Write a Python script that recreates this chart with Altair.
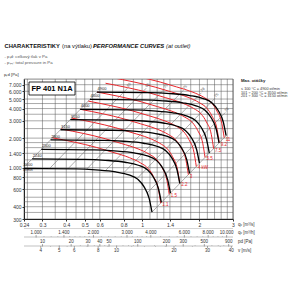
import altair as alt
import pandas as pd

FONT = "Liberation Sans"
W, H = 209, 140
L, T = 24, 79

# ---- fan curves (black), q [m3/s], p [Pa] ----
speeds = ["4900", "4500", "4000", "3550", "3150", "2800", "2500", "2240", "2000"]
q_4900 = [0.58, 1.10, 1.40, 1.78, 2.09, 2.33, 2.50, 2.67, 2.76]
p_4900 = [5890, 5820, 5690, 5430, 5060, 4560, 3870, 2900, 2115]
q_4500 = [0.533, 1.010, 1.286, 1.635, 1.919, 2.140, 2.296, 2.452, 2.535]
p_4500 = [4968, 4909, 4799, 4580, 4268, 3846, 3264, 2446, 1784]
q_4000 = [0.473, 0.898, 1.143, 1.453, 1.706, 1.902, 2.041, 2.180, 2.253]
p_4000 = [3925, 3878, 3792, 3619, 3372, 3039, 2579, 1933, 1409]
q_3550 = [0.420, 0.797, 1.014, 1.290, 1.514, 1.688, 1.811, 1.934, 2.000]
p_3550 = [3092, 3055, 2987, 2850, 2656, 2394, 2031, 1522, 1110]
q_3150 = [0.373, 0.707, 0.900, 1.144, 1.344, 1.498, 1.607, 1.717, 1.774]
p_3150 = [2434, 2405, 2352, 2244, 2091, 1885, 1599, 1199, 874]
q_2800 = [0.331, 0.629, 0.800, 1.017, 1.194, 1.331, 1.429, 1.526, 1.577]
p_2800 = [1923, 1900, 1858, 1773, 1652, 1489, 1264, 947, 691]
q_2500 = [0.296, 0.561, 0.714, 0.908, 1.066, 1.189, 1.276, 1.362, 1.408]
p_2500 = [1533, 1515, 1481, 1413, 1317, 1187, 1007, 755, 551]
q_2240 = [0.265, 0.503, 0.640, 0.814, 0.955, 1.065, 1.143, 1.220, 1.262]
p_2240 = [1231, 1216, 1189, 1135, 1058, 953, 809, 606, 442]
q_2000 = [0.237, 0.449, 0.571, 0.727, 0.853, 0.951, 1.021, 1.090, 1.127]
p_2000 = [981, 970, 948, 905, 843, 760, 645, 483, 352]

# ---- motor power curves (red) ----
powers = ["11", "9.2", "7.5", "5.5", "4 kW", "3", "2.2", "1.5", "1.1"]
q_11 = [0.731, 1.244, 1.514, 1.850, 2.116, 2.323, 2.470, 2.623, 2.697]
p_11 = [9348, 7449, 6653, 5866, 5184, 4534, 3778, 2800, 2019]
q_9_2 = [0.689, 1.172, 1.426, 1.743, 1.994, 2.189, 2.328, 2.472, 2.541]
p_9_2 = [8298, 6612, 5905, 5207, 4601, 4025, 3354, 2486, 1792]
q_7_5 = [0.643, 1.095, 1.332, 1.628, 1.862, 2.044, 2.174, 2.309, 2.373]
p_7_5 = [7241, 5770, 5153, 4544, 4015, 3512, 2927, 2169, 1564]
q_5_5 = [0.580, 0.988, 1.202, 1.468, 1.679, 1.844, 1.961, 2.082, 2.140]
p_5_5 = [5889, 4693, 4191, 3695, 3265, 2856, 2380, 1764, 1272]
q_4 = [0.522, 0.888, 1.081, 1.320, 1.510, 1.658, 1.763, 1.873, 1.925]
p_4 = [4762, 3795, 3389, 2988, 2641, 2310, 1925, 1426, 1029]
q_3 = [0.474, 0.807, 0.982, 1.200, 1.372, 1.506, 1.602, 1.701, 1.749]
p_3 = [3931, 3132, 2797, 2467, 2180, 1906, 1589, 1177, 849]
q_2_2 = [0.427, 0.728, 0.885, 1.082, 1.237, 1.358, 1.445, 1.534, 1.577]
p_2_2 = [3197, 2548, 2275, 2006, 1773, 1551, 1292, 958, 691]
q_1_5 = [0.376, 0.640, 0.779, 0.952, 1.089, 1.196, 1.272, 1.350, 1.388]
p_1_5 = [2476, 1973, 1762, 1554, 1373, 1201, 1001, 742, 535]
q_1_1 = [0.339, 0.578, 0.703, 0.859, 0.982, 1.078, 1.147, 1.218, 1.252]
p_1_1 = [2014, 1605, 1433, 1264, 1117, 977, 814, 603, 435]

# ---- gray rays ----
ray_q_low = [0.2366, 0.3264, 0.408, 0.510, 0.6406, 0.7956, 0.9384, 1.061, 1.126]
ray_p_low = [980.7, 977.4, 972.4, 959, 929, 874, 771, 549.5, 352]
ray_q_high = [0.58, 0.84, 1.05, 1.3125, 1.6485, 2.0475, 2.415, 2.73, 2.76]
ray_p_high = [5890, 6472, 6439, 6350, 6152, 5788, 5105, 3638, 2115]
ray_labels = ["", "60", "65", "70", "75", "78", "75", "70", ""]

# ---- axes ----
x_labels = [0.24, 0.3, 0.4, 0.5, 0.6, 0.8, 1, 1.4, 2, 3]
y_labels = [300, 400, 600, 800, 1000, 1400, 2000, 3000, 4000, 5000, 6000, 7000]
grid_x = [0.25, 0.3, 0.35, 0.4, 0.45, 0.5, 0.55, 0.6, 0.7, 0.8, 0.9, 1.0, 1.1, 1.2,
          1.3, 1.4, 1.6, 1.8, 2.0, 2.2, 2.4, 2.6, 2.8, 3.0]
grid_y = [350, 400, 450, 500, 600, 700, 800, 900, 1000, 1200, 1400, 1600, 1800, 2000,
          2500, 3000, 3500, 4000, 4500, 5000, 6000, 7000]
m3h_labels = [1000, 1400, 2000, 3000, 4000, 6000, 8000, 10000]
m3h_minor = [1100, 1200, 1300, 1500, 1600, 1700, 1800, 1900, 2200, 2400, 2600, 2800,
             3200, 3400, 3600, 3800, 4500, 5000, 5500, 6500, 7000, 7500, 8500, 9000, 9500]
pd_labels = [10, 20, 30, 40, 50, 100, 200, 300, 500, 900]
pd_minor = [15, 25, 35, 45, 60, 70, 80, 90, 150, 250, 400, 600, 700, 800]
v_labels = [4, 5, 6, 8, 10, 20, 30, 40]
v_minor = [4.5, 5.5, 7, 9, 12, 14, 16, 18, 25, 35]
OUTLET_AREA = 0.0735  # m2
RHO = 1.2

black = {"4900": (q_4900, p_4900), "4500": (q_4500, p_4500), "4000": (q_4000, p_4000),
         "3550": (q_3550, p_3550), "3150": (q_3150, p_3150), "2800": (q_2800, p_2800),
         "2500": (q_2500, p_2500), "2240": (q_2240, p_2240), "2000": (q_2000, p_2000)}
red = {"11": (q_11, p_11), "9.2": (q_9_2, p_9_2), "7.5": (q_7_5, p_7_5),
       "5.5": (q_5_5, p_5_5), "4 kW": (q_4, p_4), "3": (q_3, p_3), "2.2": (q_2_2, p_2_2),
       "1.5": (q_1_5, p_1_5), "1.1": (q_1_1, p_1_1)}


def long_df(d):
    rows = []
    for name, (qs, ps) in d.items():
        for i, (q, p) in enumerate(zip(qs, ps)):
            rows.append({"curve": name, "i": i, "q": q, "p": p})
    return pd.DataFrame(rows)


black_df = long_df(black)
red_df = long_df(red)
ray_rows = []
for j in range(len(ray_q_low)):
    ray_rows.append({"curve": j, "i": 0, "q": ray_q_low[j], "p": ray_p_low[j]})
    ray_rows.append({"curve": j, "i": 1, "q": ray_q_high[j], "p": ray_p_high[j]})
ray_df = pd.DataFrame(ray_rows)
ray_lab_df = pd.DataFrame({"q": ray_q_high, "p": ray_p_high, "t": ray_labels})
ray_lab_df = ray_lab_df[ray_lab_df.t != ""]

rpm_df = pd.DataFrame({"q": [black[s][0][0] for s in speeds],
                       "p": [black[s][1][0] for s in speeds], "t": speeds})
kw_df = pd.DataFrame({"q": [red[s][0][-1] for s in powers],
                      "p": [red[s][1][-1] for s in powers], "t": powers})

xs = alt.Scale(type="log", domain=[0.24, 3], nice=False, zero=False)
ys = alt.Scale(type="log", domain=[300, 8000], nice=False, zero=False)
xaxis = alt.Axis(values=x_labels, title=None, grid=False, tickSize=2, labelFontSize=5,
                 labelPadding=1, labelOverlap=False, labelFlush=False, labelColor="#333",
                 tickColor="#333", domainColor="#222", labelFont=FONT)
yaxis = alt.Axis(values=y_labels, title=None, grid=False, tickSize=2, labelFontSize=5,
                 labelPadding=1, labelOverlap=False, labelFlush=False, labelColor="#333",
                 tickColor="#333", domainColor="#222", labelFont=FONT,
                 labelExpr="datum.value >= 1000 ? replace(format(datum.value, ','), ',', '.') : format(datum.value, 'd')")
X = alt.X("q:Q", scale=xs, axis=xaxis)
Y = alt.Y("p:Q", scale=ys, axis=yaxis)

grid_v = alt.Chart(pd.DataFrame({"q": grid_x})).mark_rule(color="#555", strokeWidth=0.5).encode(x=X)
grid_h = alt.Chart(pd.DataFrame({"p": grid_y})).mark_rule(color="#555", strokeWidth=0.5).encode(y=Y)

rays = alt.Chart(ray_df).mark_line(color="#777", strokeWidth=0.6, clip=True).encode(
    x=X, y=Y, detail="curve:N", order="i:Q")
reds = alt.Chart(red_df).mark_line(color="#e8262b", strokeWidth=1.0, clip=True,
                                   interpolate="monotone").encode(
    x=X, y=Y, detail="curve:N", order="i:Q")
blacks = alt.Chart(black_df).mark_line(color="black", strokeWidth=1.3, clip=True,
                                       interpolate="monotone").encode(
    x=X, y=Y, detail="curve:N", order="i:Q")

rpm_txt = alt.Chart(rpm_df).mark_text(fontSize=4, font=FONT, color="#222", dx=5, dy=-3).encode(
    x=X, y=Y, text="t:N")
otmin = alt.Chart(rpm_df.tail(1)).mark_text(fontSize=3.5, font=FONT, color="#222", dx=5, dy=1.5,
                                            text="ot/min").encode(x=X, y=Y)
kw_txt = alt.Chart(kw_df).mark_text(fontSize=4.5, font=FONT, color="#e8262b", align="left",
                                    dx=1.5, dy=2).encode(x=X, y=Y, text="t:N")
ray_txt = alt.Chart(ray_lab_df).mark_text(fontSize=3.8, font=FONT, color="#555", align="left",
                                          angle=315, dx=1, dy=-1).encode(x=X, y=Y, text="t:N")

dummy = pd.DataFrame({"a": [0]})


def txt(s, px, py, size=4.5, color="#333", weight="normal", style="normal", align="left"):
    return alt.Chart(dummy).mark_text(text=s, fontSize=size, color=color, fontWeight=weight,
                                      fontStyle=style, align=align, baseline="middle",
                                      font=FONT).encode(x=alt.value(px - L), y=alt.value(py - T))


def hline(py, color="#999", w=0.6):
    return alt.Chart(dummy).mark_rule(color=color, strokeWidth=w).encode(
        x=alt.value(0), x2=alt.value(W), y=alt.value(py - T))


def ticks(vals, to_q, y1, y2, color="#777"):
    df = pd.DataFrame({"v": vals})
    return alt.Chart(df).transform_calculate(q=to_q).mark_rule(color=color, strokeWidth=0.5).encode(
        x=X, y=alt.value(y1 - T), y2=alt.value(y2 - T))


def tick_labels(vals, to_q, py, fmt):
    df = pd.DataFrame({"v": vals})
    return alt.Chart(df).transform_calculate(q=to_q, t=fmt).mark_text(
        fontSize=4.5, font=FONT, color="#333", baseline="middle").encode(
        x=X, y=alt.value(py - T), text="t:N")


m3h_q = "datum.v / 3600"
pd_q = f"{OUTLET_AREA} * sqrt(datum.v / ({RHO} / 2))"
v_q = f"{OUTLET_AREA} * datum.v"
thousands = "replace(format(datum.v, ','), ',', '.')"

box = alt.Chart(dummy).mark_rect(fill="white", stroke="black", strokeWidth=0.8).encode(
    x=alt.value(29 - L), x2=alt.value(75 - L), y=alt.value(82 - T), y2=alt.value(95 - T))

layers = [
    grid_v, grid_h, rays, reds, blacks, rpm_txt, otmin, kw_txt, ray_txt, box,
    txt("FP 401 N1A", 52, 88.7, size=7.5, color="black", weight="bold", align="center"),
    txt("CHARAKTERISTIKY", 4.5, 46, size=5.8, color="#111", weight="bold"),
    txt("(na výtlaku) /", 62, 46, size=5.8, color="#111"),
    txt("PERFORMANCE CURVES", 93, 46, size=5.8, color="#111", weight="bold", style="italic"),
    txt("(at outlet)", 166, 46, size=5.8, color="#111", style="italic"),
    txt("- pₜd: celkový tlak v Pa", 4.5, 57, size=4.3, color="#555"),
    txt("- pₜₒₜ: total pressure in Pa", 4.5, 63, size=4.3, color="#555"),
    txt("pₜd [Pa]", 4, 75, size=4.3, color="#333"),
    txt("Max. otáčky", 241, 81, size=4.3, color="#222", weight="bold"),
    txt("≤ 100 °C = 4900 ot/min", 241, 89, size=3.8, color="#333"),
    txt("101 ÷ 200 °C = 3550 ot/min", 241, 92.7, size=3.8, color="#333"),
    txt("201 ÷ 300 °C = 3150 ot/min", 241, 96.4, size=3.8, color="#333"),
    txt("qᵥ [m³/s]", 238, 224.5, size=4.5),
    txt("qᵥ [m³/h]", 238, 233.3, size=4.5),
    txt("pd [Pa]", 238, 242, size=4.5),
    txt("v [m/s]", 238, 250.8, size=4.5),
    hline(228.5, "#bbb"), hline(237, "#999"), hline(246, "#999"),
    ticks(m3h_labels, m3h_q, 235, 237.5, "#555"), ticks(m3h_minor, m3h_q, 236, 237, "#999"),
    ticks(pd_labels, pd_q, 244, 246.5, "#555"), ticks(pd_minor, pd_q, 245, 246, "#999"),
    ticks(v_labels, v_q, 246, 248, "#555"), ticks(v_minor, v_q, 246, 247, "#999"),
    tick_labels(m3h_labels, m3h_q, 233, thousands),
    tick_labels(pd_labels, pd_q, 241.8, "'' + datum.v"),
    tick_labels(v_labels, v_q, 250.8, "'' + datum.v"),
]

chart = alt.layer(*layers).properties(
    width=W, height=H,
    padding={"left": L, "top": T, "right": 300 - L - W, "bottom": 300 - T - H},
    autosize=alt.AutoSizeParams(type="none"),
    background="white",
).configure_view(stroke="#333", strokeWidth=0.6)

chart.save("out.html", embed_options={"renderer": "svg", "actions": False})
